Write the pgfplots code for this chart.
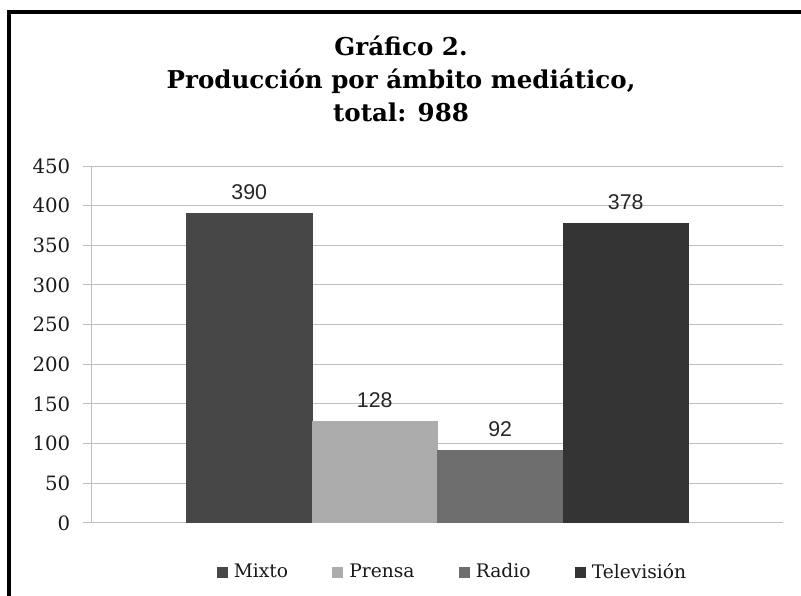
\documentclass[border=0pt]{standalone}
\usepackage{pgfplots}
\pgfplotsset{compat=1.18}
\usepackage{fontspec}
\setmainfont{DejaVu Serif}
\setsansfont{Liberation Sans}
\definecolor{cMixto}{RGB}{71,71,71}
\definecolor{cPrensa}{RGB}{172,172,172}
\definecolor{cRadio}{RGB}{110,110,110}
\definecolor{cTele}{RGB}{52,52,52}
\definecolor{gridc}{RGB}{190,190,190}
\begin{document}
\begin{tikzpicture}
\path[use as bounding box] (0,0) rectangle (600.75pt,447pt);
\draw[line width=3pt] (6.75pt,0pt) -- (6.75pt,438pt) -- (600.75pt,438pt);
\node[font=\bfseries\fontsize{18.4}{21}\selectfont, anchor=base] at (300.75pt,405pt) {Gráfico 2.};
\node[font=\bfseries\fontsize{18.4}{21}\selectfont, anchor=base] at (300.75pt,380.5pt) {Producción por ámbito mediático,};
\node[font=\bfseries\fontsize{18.4}{21}\selectfont, anchor=base] at (300.75pt,355.5pt) {total: 988};
\begin{axis}[
  at={(69pt,54.75pt)}, anchor=south west,
  scale only axis, width=518.25pt, height=267.75pt,
  xmin=-0.5, xmax=0.5, ymin=0, ymax=450,
  xtick=\empty,
  ytick={0,50,...,450},
  ymajorgrids, grid style={gridc, line width=0.75pt},
  axis x line*=bottom, axis y line*=left,
  axis line style={gridc, line width=0.75pt},
  tick align=outside, major tick length=6.75pt,
  ytick style={gridc, line width=0.75pt},
  /pgf/number format/assume math mode=true,
  yticklabel style={font=\fontsize{14.8}{17}\selectfont, text=black!90, xshift=-6pt},
  ybar, bar width=0.1816,
  nodes near coords,
  every node near coord/.append style={font=\sffamily\fontsize{16}{18}\selectfont, anchor=center, yshift=15.75pt, text=black!85},
  legend columns=4,
  legend style={draw=none, fill=none, at={(0.522,-0.137)}, anchor=center,
    font=\fontsize{14}{16}\selectfont, text=black!90,
    /tikz/every even column/.append style={column sep=31pt}},
  legend image code/.code={\fill[#1] (0pt,-3.75pt) rectangle (7.5pt,3.75pt); \path (0pt,0pt) (10.5pt,0pt);},
]
\addplot[fill=cMixto, draw=cMixto, bar shift=-0.2724] coordinates {(0,390)};
\addplot[fill=cPrensa, draw=cPrensa, bar shift=-0.0908] coordinates {(0,128)};
\addplot[fill=cRadio, draw=cRadio, bar shift=0.0908] coordinates {(0,92)};
\addplot[fill=cTele, draw=cTele, bar shift=0.2724] coordinates {(0,378)};
\legend{Mixto, Prensa, Radio, Televisión}
\end{axis}
\end{tikzpicture}
\end{document}
